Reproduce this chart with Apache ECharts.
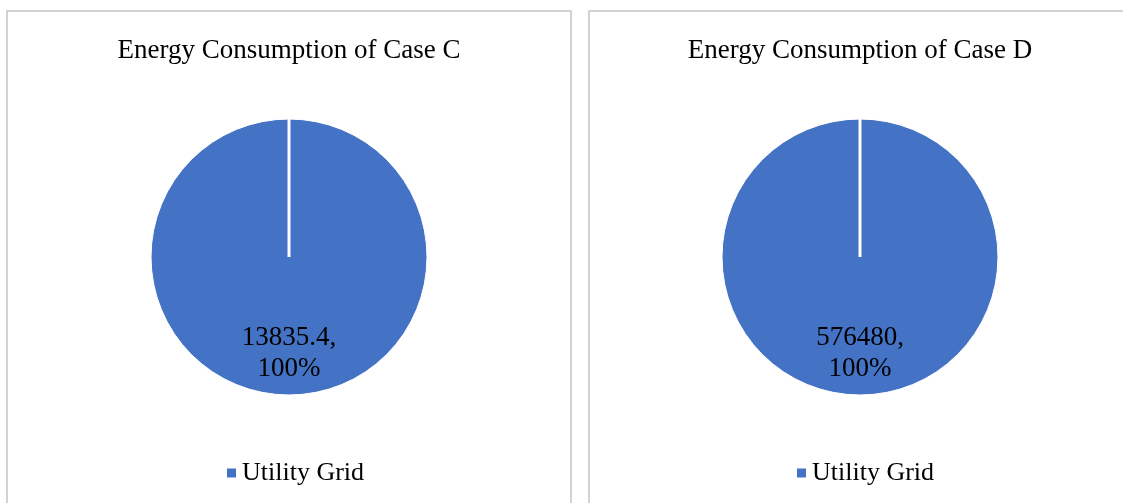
<!DOCTYPE html>
<html>
<head>
<meta charset="utf-8">
<script src="https://cdn.jsdelivr.net/npm/echarts@6/dist/echarts.min.js"></script>
<style>
  html, body { margin: 0; padding: 0; width: 1123px; height: 503px; overflow: hidden; background: #fff; }
  .panel { position: absolute; top: 10px; height: 520px; border: 2px solid #d2d2d2; box-sizing: content-box; }
  #caseC { left: 6px; width: 562px; }
  #caseD { left: 588px; width: 540px; }
</style>
</head>
<body>
<div id="caseC" class="panel"></div>
<div id="caseD" class="panel"></div>
<script>
// Energy source categories and consumption per case
const sourceNames = ['Utility Grid'];
const caseCValues = [13835.4];
const caseDValues = [576480];
const chartTitles = ['Energy Consumption of Case C', 'Energy Consumption of Case D'];

const SERIF = '"Liberation Serif", "Times New Roman", serif';
const BLUE = '#4472C4';

function drawCase(elId, title, values, legendLeft) {
  const chart = echarts.init(document.getElementById(elId), null, { renderer: 'canvas' });
  chart.setOption({
    animation: false,
    color: [BLUE],
    title: {
      text: title,
      left: 'center',
      top: 20,
      textStyle: { fontFamily: SERIF, fontSize: 27, fontWeight: 'normal', color: '#000' }
    },
    legend: {
      data: sourceNames,
      left: legendLeft,
      top: 443,
      icon: 'rect',
      itemWidth: 11,
      itemHeight: 11,
      textStyle: { fontFamily: SERIF, fontSize: 26, color: '#000' }
    },
    series: [{
      type: 'pie',
      center: ['50%', 245],
      radius: 138,
      startAngle: 90,
      clockwise: true,
      silent: true,
      itemStyle: { borderColor: '#fff', borderWidth: 1 },
      label: {
        show: true,
        position: 'inside',
        formatter: '{c},\n{d}%',
        fontFamily: SERIF,
        fontSize: 27,
        lineHeight: 31,
        color: '#000'
      },
      labelLayout: { dy: 12 },
      labelLine: { show: false },
      data: sourceNames.map((name, i) => ({ name: name, value: values[i] }))
    }]
  });

  // Radial slice edge at the start angle, taken from the laid-out sector
  const layout = chart.getModel().getSeriesByIndex(0).getData().getItemLayout(0);
  const a = layout.startAngle;
  chart.setOption({
    graphic: [{
      type: 'line',
      silent: true,
      z: 10,
      shape: {
        x1: layout.cx, y1: layout.cy,
        x2: layout.cx + layout.r * Math.cos(a), y2: layout.cy + layout.r * Math.sin(a)
      },
      style: { stroke: '#fff', lineWidth: 3 }
    }]
  });
  return chart;
}

drawCase('caseC', chartTitles[0], caseCValues, 212);
drawCase('caseD', chartTitles[1], caseDValues, 200);
</script>
</body>
</html>
